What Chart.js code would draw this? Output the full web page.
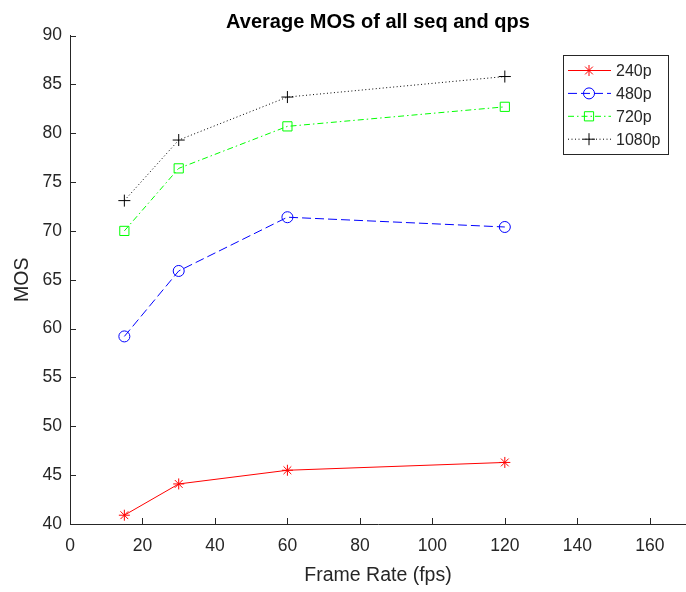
<!DOCTYPE html>
<html>
<head>
<meta charset="utf-8">
<script src="https://cdn.jsdelivr.net/npm/chart.js@4/dist/chart.umd.min.js"></script>
<style>
  html, body { margin: 0; padding: 0; background: #fff; }
  #wrap { width: 686px; height: 592px; }
</style>
</head>
<body>
<div id="wrap"><canvas id="c" width="686" height="592"></canvas></div>
<script>
// Average MOS per frame rate, one series per resolution
const frameRates = [15, 30, 60, 120];
const mos240  = [40.9, 44.1, 45.5, 46.3];
const mos480  = [59.2, 65.9, 71.4, 70.4];
const mos720  = [70.0, 76.4, 80.7, 82.7];
const mos1080 = [73.1, 79.3, 83.7, 85.8];
const seriesNames = ['240p', '480p', '720p', '1080p'];

const xTicks = [0, 20, 40, 60, 80, 100, 120, 140, 160];
const yTicks = [40, 45, 50, 55, 60, 65, 70, 75, 80, 85, 90];

const chartTitle = 'Average MOS of all seq and qps';
const xTitle = 'Frame Rate (fps)';
const yTitle = 'MOS';

const FONT = '"Liberation Sans", Arial, Helvetica, sans-serif';
const AXIS = '#262626';
const NONE = 'rgba(0,0,0,0)';

const toPoints = vals => frameRates.map((x, i) => ({ x, y: vals[i] }));

function series(label, vals, color, dash, style, radius) {
  return {
    label,
    data: toPoints(vals),
    borderColor: color,
    backgroundColor: NONE,
    borderWidth: 1,
    borderDash: dash,
    fill: false,
    tension: 0,
    pointStyle: style,
    pointRadius: radius,
    pointHoverRadius: radius,
    pointBorderWidth: 1,
    pointBorderColor: color,
    pointBackgroundColor: NONE
  };
}

const datasets = [
  series(seriesNames[0], mos240,  '#ff0000', [],             'star',   5.5),
  series(seriesNames[1], mos480,  '#0000ff', [9, 4],         'circle', 5.5),
  series(seriesNames[2], mos720,  '#00ff00', [6, 3, 1.5, 3], 'rect',   6.5),
  series(seriesNames[3], mos1080, '#000000', [1, 2.5],       'cross',  6)
];

// Title centred over the plotting area
const plotTitle = {
  id: 'plotTitle',
  afterDraw(chart) {
    const { ctx, chartArea: a } = chart;
    ctx.save();
    ctx.font = 'bold 20px ' + FONT;
    ctx.fillStyle = '#000';
    ctx.textAlign = 'center';
    ctx.textBaseline = 'middle';
    ctx.fillText(chartTitle, (a.left + a.right) / 2, 22.5);
    ctx.restore();
  }
};

// Tick marks pointing into the plot
const innerTicks = {
  id: 'innerTicks',
  afterDraw(chart) {
    const { ctx } = chart;
    const xs = chart.scales.x, ys = chart.scales.y;
    const len = 6;
    ctx.save();
    ctx.strokeStyle = AXIS;
    ctx.lineWidth = 1;
    ctx.beginPath();
    xTicks.forEach(v => {
      const px = Math.round(xs.getPixelForValue(v)) + 0.5;
      ctx.moveTo(px, ys.bottom);
      ctx.lineTo(px, ys.bottom - len);
    });
    yTicks.forEach(v => {
      const py = Math.round(ys.getPixelForValue(v)) + 0.5;
      ctx.moveTo(xs.left, py);
      ctx.lineTo(xs.left + len, py);
    });
    ctx.stroke();
    ctx.restore();
  }
};

// Boxed legend with line sample and marker per series
const boxLegend = {
  id: 'boxLegend',
  afterDraw(chart) {
    const { ctx, chartArea: a } = chart;
    const right = a.right - 18, top = a.top + 19.5;
    const w = 105, h = 99;
    const left = right - w;
    ctx.save();
    ctx.fillStyle = '#fff';
    ctx.fillRect(left, top, w, h);
    ctx.strokeStyle = AXIS;
    ctx.lineWidth = 1;
    ctx.strokeRect(Math.round(left) + 0.5, Math.round(top) + 0.5, w, h);
    chart.data.datasets.forEach((ds, i) => {
      const y = top + 15.5 + i * 22.9;
      ctx.strokeStyle = ds.borderColor;
      ctx.lineWidth = ds.borderWidth;
      ctx.setLineDash(ds.borderDash);
      ctx.beginPath();
      ctx.moveTo(left + 5, y);
      ctx.lineTo(left + 48, y);
      ctx.stroke();
      ctx.setLineDash([]);
      ctx.fillStyle = NONE;
      ctx.strokeStyle = ds.pointBorderColor;
      Chart.helpers.drawPoint(ctx, {
        pointStyle: ds.pointStyle,
        radius: ds.pointRadius,
        rotation: 0,
        borderWidth: ds.pointBorderWidth
      }, left + 26, y);
      ctx.fillStyle = AXIS;
      ctx.font = '16px ' + FONT;
      ctx.textAlign = 'left';
      ctx.textBaseline = 'middle';
      ctx.fillText(ds.label, left + 53, y + 1);
    });
    ctx.restore();
  }
};

new Chart(document.getElementById('c'), {
  type: 'line',
  data: { datasets },
  plugins: [plotTitle, innerTicks, boxLegend],
  options: {
    responsive: false,
    animation: false,
    devicePixelRatio: 1,
    layout: { autoPadding: false, padding: { top: 35.5, right: 0, bottom: 0, left: 0 } },
    plugins: { legend: { display: false }, title: { display: false }, tooltip: { enabled: false } },
    scales: {
      x: {
        type: 'linear',
        min: 0,
        max: 170,
        afterBuildTicks: s => { s.ticks = xTicks.map(v => ({ value: v })); },
        afterFit: s => { s.height = 68; s.paddingLeft = 0; s.paddingRight = 0; },
        grid: { display: true, drawOnChartArea: false, drawTicks: false, color: NONE },
        border: { display: true, color: AXIS, width: 1 },
        ticks: { color: AXIS, font: { family: FONT, size: 17.5 }, padding: 12, maxRotation: 0, autoSkip: false },
        title: { display: true, text: xTitle, color: AXIS, font: { family: FONT, size: 19.5 }, padding: { top: 0, bottom: 5 } }
      },
      y: {
        type: 'linear',
        min: 40,
        max: 90,
        afterBuildTicks: s => { s.ticks = yTicks.map(v => ({ value: v })); },
        afterFit: s => { s.width = 70; s.paddingTop = 0; s.paddingBottom = 0; },
        grid: { display: true, drawOnChartArea: false, drawTicks: false, color: NONE },
        border: { display: true, color: AXIS, width: 1 },
        ticks: { color: AXIS, font: { family: FONT, size: 17.5 }, padding: 8, autoSkip: false },
        title: { display: true, text: yTitle, color: AXIS, font: { family: FONT, size: 19.5 }, padding: { top: 11, bottom: 0 } }
      }
    }
  }
});
</script>
</body>
</html>
